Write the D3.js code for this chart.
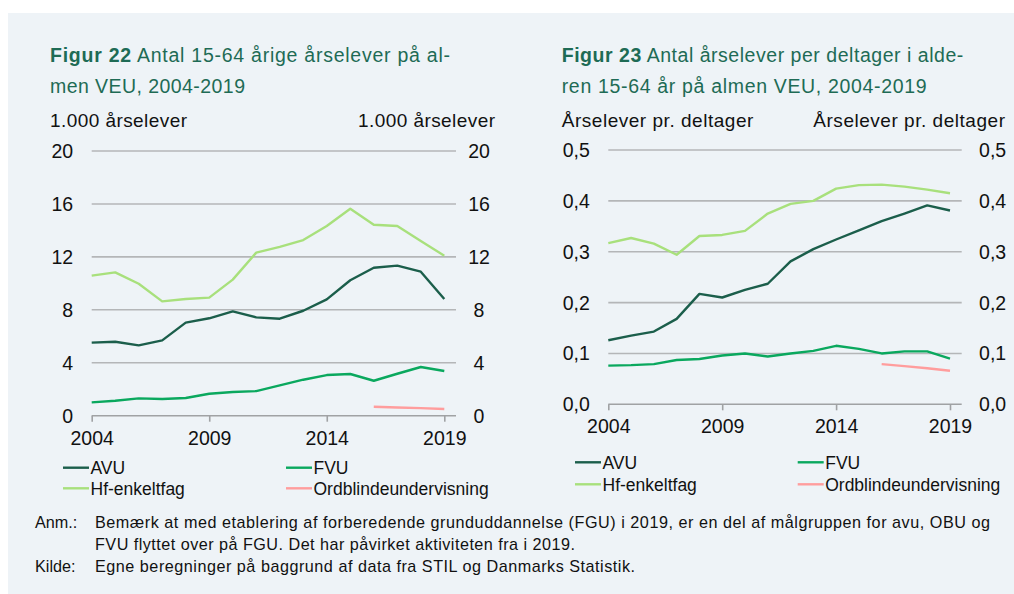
<!DOCTYPE html>
<html><head><meta charset="utf-8">
<script src="https://cdn.jsdelivr.net/npm/d3@7"></script>
<style>
html,body{margin:0;padding:0;background:#fff;}
svg{display:block;font-family:"Liberation Sans",Arial,sans-serif;}
</style></head>
<body>
<svg id="c" width="1014" height="594"></svg>
<script>
const years = [2004,2005,2006,2007,2008,2009,2010,2011,2012,2013,2014,2015,2016,2017,2018,2019];
const xTickYears = [2004,2009,2014,2019];
const seriesNames = ["AVU","FVU","Hf-enkeltfag","Ordblindeundervisning"];
const seriesColors = ["#1b5e4b","#0aa85e","#a8e07c","#ff9d9d"];

// Figur 22: 1.000 årselever
const f22AVU = [5.52,5.59,5.31,5.69,7.03,7.36,7.88,7.43,7.33,7.93,8.79,10.23,11.18,11.34,10.88,8.82];
const f22FVU = [1.01,1.13,1.31,1.26,1.34,1.66,1.79,1.86,2.29,2.72,3.07,3.15,2.64,3.17,3.68,3.38];
const f22Hf  = [10.58,10.83,9.97,8.64,8.82,8.92,10.28,12.32,12.75,13.27,14.33,15.64,14.43,14.33,13.2,12.09];
const f22OBU = [null,null,null,null,null,null,null,null,null,null,null,null,0.68,0.62,0.57,0.51];
const f22Ticks = [0,4,8,12,16,20];

// Figur 23: årselever pr. deltager
const f23AVU = [0.126,0.135,0.143,0.168,0.217,0.210,0.225,0.237,0.281,0.305,0.324,0.342,0.360,0.375,0.391,0.381];
const f23FVU = [0.076,0.077,0.079,0.087,0.089,0.096,0.100,0.094,0.100,0.105,0.115,0.109,0.100,0.104,0.104,0.090];
const f23Hf  = [0.317,0.327,0.316,0.294,0.331,0.333,0.341,0.375,0.394,0.400,0.424,0.431,0.432,0.428,0.422,0.415];
const f23OBU = [null,null,null,null,null,null,null,null,null,null,null,null,0.079,0.075,0.071,0.066];
const f23Ticks = [0,0.1,0.2,0.3,0.4,0.5];

const svg = d3.select("#c");
svg.append("rect").attr("x",8).attr("y",13).attr("width",1006).attr("height",581).attr("fill","#eef3f7");

const titleColor = "#1e6b55";

function panel(o){
  const g = svg.append("g");
  // title
  const t1 = g.append("text").attr("x",o.tx).attr("y",61.7).attr("fill",titleColor).attr("font-size",19.5)
    .attr("textLength",o.t1len).attr("lengthAdjust","spacing");
  t1.append("tspan").attr("font-weight","bold").text(o.fig);
  t1.append("tspan").text(" " + o.title1);
  g.append("text").attr("x",o.tx).attr("y",93).attr("fill",titleColor).attr("font-size",19.5)
    .attr("textLength",o.t2len).attr("lengthAdjust","spacing").text(o.title2);
  // unit labels
  g.append("text").attr("x",o.tx).attr("y",126.7).attr("font-size",19).attr("fill","#111")
    .attr("textLength",o.unitLen).attr("lengthAdjust","spacing").text(o.unit);
  g.append("text").attr("x",o.unitRx - o.unitLen).attr("y",126.7).attr("font-size",19).attr("fill","#111")
    .attr("textLength",o.unitLen).attr("lengthAdjust","spacing").text(o.unit);

  const x = d3.scaleLinear().domain([2004,2019]).range([o.x0,o.x1]);
  const y = d3.scaleLinear().domain([0,o.ymax]).range([o.y0,o.y1]);

  // gridlines
  g.append("g").selectAll("line").data(o.ticks.filter(d=>d>0)).join("line")
    .attr("x1",o.x0).attr("x2",o.xEnd).attr("y1",d=>y(d)).attr("y2",d=>y(d))
    .attr("stroke","#b4b6b8").attr("stroke-width",1.6);
  // x axis
  const xa = d3.axisBottom(x).tickValues(xTickYears).tickSize(6).tickFormat(d3.format("d"));
  const ax = g.append("g").attr("transform",`translate(0,${o.y0})`).call(xa);
  ax.select(".domain").attr("d",`M${o.x0},0H${o.xEnd}`).attr("stroke","#a0a2a4").attr("stroke-width",1.6);
  ax.selectAll(".tick line").attr("stroke","#a0a2a4").attr("stroke-width",1.6);
  ax.selectAll(".tick text").attr("font-size",19.5).attr("fill","#111").attr("font-family","Liberation Sans, Arial, sans-serif")
    .attr("dy",null).attr("y",o.xLabY);
  // y labels
  const fmt = o.fmt;
  g.append("g").selectAll("text").data(o.ticks).join("text")
    .attr("x",o.x0-18.5).attr("y",d=>y(d)+7).attr("text-anchor","end")
    .attr("font-size",19.5).attr("fill","#111").text(fmt);
  g.append("g").selectAll("text").data(o.ticks).join("text")
    .attr("x",o.rLabX).attr("y",d=>y(d)+7).attr("text-anchor","middle")
    .attr("font-size",19.5).attr("fill","#111").text(fmt);

  // lines
  const line = d3.line().defined(d=>d!=null).x((d,i)=>x(years[i])).y(d=>y(d));
  const order = [2,0,1,3];
  order.forEach(k=>{
    g.append("path").datum(o.data[k]).attr("fill","none").attr("stroke",seriesColors[k])
      .attr("stroke-width",2.4).attr("stroke-linejoin","round").attr("d",line);
  });

  // legend
  const lg = g.append("g");
  seriesNames.forEach((n,k)=>{
    const col = k%2, row = Math.floor(k/2);
    const lx = o.legX[col], ly = o.legY[row];
    lg.append("line").attr("x1",lx).attr("x2",lx+26).attr("y1",ly).attr("y2",ly)
      .attr("stroke",seriesColors[k]).attr("stroke-width",2.4);
    lg.append("text").attr("x",lx+27.5).attr("y",ly+6.2).attr("font-size",17.5).attr("fill","#111").text(n);
  });
}

panel({fig:"Figur 22", title1:"Antal 15-64 årige årselever på al-", title2:"men VEU, 2004-2019",
  tx:50, t1len:400, t2len:195, unit:"1.000 årselever", unitLen:137, unitRx:495,
  x0:91.7, x1:444.3, xEnd:456, y0:415.7, y1:151, ymax:20, ticks:f22Ticks,
  fmt:d=>d3.format("d")(d), rLabX:479, xLabY:29.3,
  data:[f22AVU,f22FVU,f22Hf,f22OBU], legX:[63,286], legY:[467.7,488.3]});

panel({fig:"Figur 23", title1:"Antal årselever per deltager i alde-", title2:"ren 15-64 år på almen VEU, 2004-2019",
  tx:561.7, t1len:401.6, t2len:365, unit:"Årselever pr. deltager", unitLen:191.7, unitRx:1005,
  x0:608.3, x1:950, xEnd:961.7, y0:404.3, y1:150, ymax:0.5, ticks:f23Ticks,
  fmt:d=>d3.format(".1f")(d).replace(".",","), rLabX:992.6, xLabY:28.7,
  data:[f23AVU,f23FVU,f23Hf,f23OBU], legX:[575,797.7], legY:[462.3,484.3]});

// notes
const notes = svg.append("g").attr("font-size",16.2).attr("fill","#111");
function note(x,y,txt,len){
  const t = notes.append("text").attr("x",x).attr("y",y).text(txt);
  if(len) t.attr("textLength",len).attr("lengthAdjust","spacing");
}
note(35,528,"Anm.:",null);
note(95,528,"Bemærk at med etablering af forberedende grunduddannelse (FGU) i 2019, er en del af målgruppen for avu, OBU og",895);
note(95,550,"FVU flyttet over på FGU.  Det har påvirket aktiviteten fra i 2019.",480);
note(35,572,"Kilde:",null);
note(95,572,"Egne beregninger på baggrund af data fra STIL og Danmarks Statistik.",540);
</script>
</body></html>
